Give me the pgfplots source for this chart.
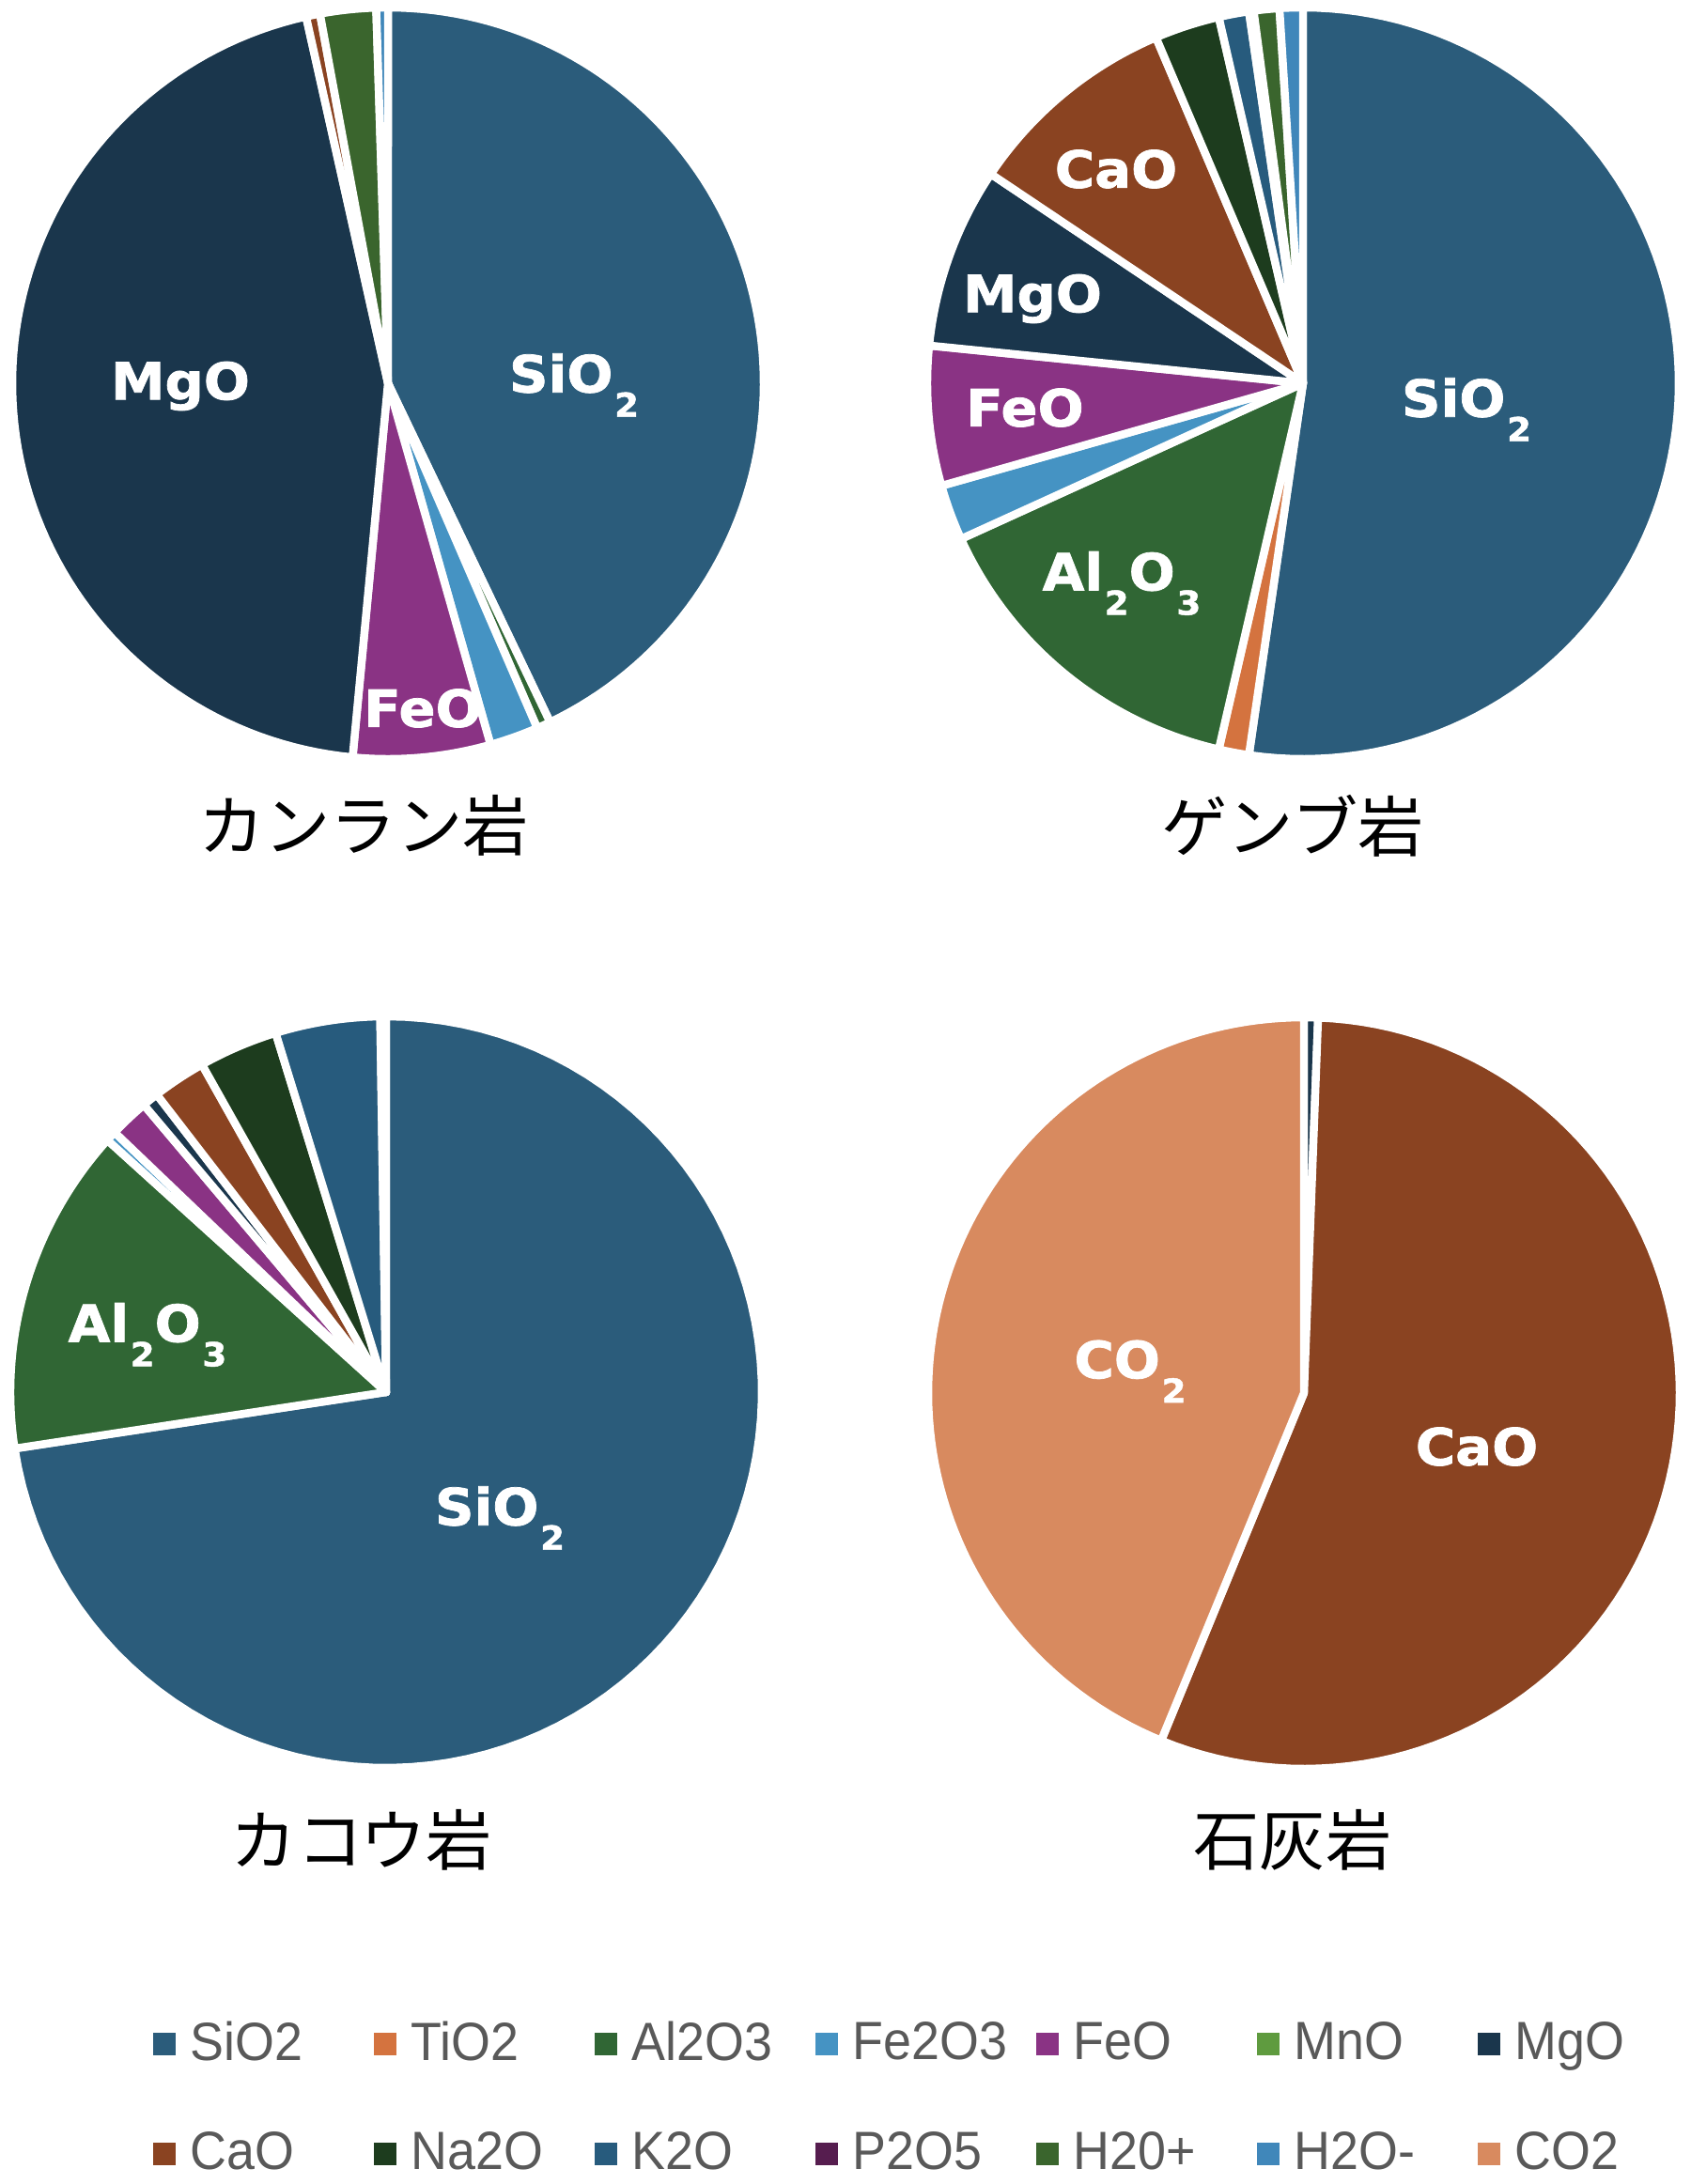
\documentclass[border=0pt]{standalone}
\usepackage{fontspec}
\setmainfont{Liberation Sans}
\newfontfamily\legfont{Liberation Sans}[FakeStretch=0.94]
\newfontfamily\lblfont{DejaVu Sans Bold}[FakeBold=1.4, FakeStretch=1.06]
\newfontfamily\jpfont{Noto Sans CJK JP}
\usepackage{pgfplots}
\usepackage{pgfplotstable}
\pgfplotsset{compat=1.18}

% oxide colours, in table order
\definecolor{oxc0}{HTML}{2B5C7B}  % SiO2
\definecolor{oxc1}{HTML}{D4733F}  % TiO2
\definecolor{oxc2}{HTML}{306634}  % Al2O3
\definecolor{oxc3}{HTML}{4593C3}  % Fe2O3
\definecolor{oxc4}{HTML}{8A3384}  % FeO
\definecolor{oxc5}{HTML}{5F9B3F}  % MnO
\definecolor{oxc6}{HTML}{1A364C}  % MgO
\definecolor{oxc7}{HTML}{8A4321}  % CaO
\definecolor{oxc8}{HTML}{1D3C1E}  % Na2O
\definecolor{oxc9}{HTML}{275B7D}  % K2O
\definecolor{oxc10}{HTML}{561D4F} % P2O5
\definecolor{oxc11}{HTML}{3A652D} % H2O+
\definecolor{oxc12}{HTML}{4087BA} % H2O-
\definecolor{oxc13}{HTML}{D88A5F} % CO2
\definecolor{legtext}{HTML}{595959}

% wt% of each oxide
\pgfplotstableread{
oxide val
SiO2  42.9
TiO2  0
Al2O3 0.6
Fe2O3 2.1
FeO   5.9
MnO   0
MgO   45.0
CaO   0.6
Na2O  0
K2O   0
P2O5  0
H2Op  2.4
H2Om  0.5
CO2   0
}\peridotite

\pgfplotstableread{
oxide val
SiO2  52.3
TiO2  1.3
Al2O3 14.6
Fe2O3 2.4
FeO   6.0
MnO   0
MgO   7.8
CaO   9.2
Na2O  2.8
K2O   1.3
P2O5  0.2
H2Op  1.1
H2Om  1.0
CO2   0
}\basalt

\pgfplotstableread{
oxide val
SiO2  72.6
TiO2  0
Al2O3 14.1
Fe2O3 0.45
FeO   1.7
MnO   0
MgO   0.7
CaO   2.3
Na2O  3.4
K2O   4.5
P2O5  0
H2Op  0.25
H2Om  0
CO2   0
}\granite

\pgfplotstableread{
oxide val
SiO2  0
TiO2  0
Al2O3 0
Fe2O3 0
FeO   0
MnO   0
MgO   0.6
CaO   55.6
Na2O  0
K2O   0
P2O5  0
H2Op  0
H2Om  0
CO2   43.8
}\limestone

\def\pieR{4.0}
% slices clockwise from 12 o'clock
\newcommand\drawpie[3]{%
  \pgfplotstablegetrowsof{#1}%
  \pgfmathtruncatemacro\nrows{\pgfplotsretval-1}%
  \def\cum{0}%
  \pgfplotsforeachungrouped \ii in {0,...,\nrows}{%
    \pgfplotstablegetelem{\ii}{val}\of{#1}%
    \let\sliceval\pgfplotsretval
    \pgfmathsetmacro\angA{90-3.6*\cum}%
    \pgfmathsetmacro\cum{\cum+\sliceval}%
    \pgfmathsetmacro\angB{90-3.6*\cum}%
    \pgfmathtruncatemacro\pieshow{\sliceval>0}%
    \ifnum\pieshow=1
      \edef\temp{\noexpand\addplot[forget plot, fill=oxc\ii, draw=white,
        line width=2.4pt, line join=round, domain=\angB:\angA, samples=90,
        variable=\noexpand\t]
        ({#2+\pieR*cos(\noexpand\t)},{#3+\pieR*sin(\noexpand\t)})
        -- (axis cs:#2,#3) -- cycle;}%
      \temp
    \fi
  }%
}

\newcommand\sub[1]{\kern0.03em\raisebox{-0.26cm}{\fontsize{10}{11}\selectfont#1}}

\tikzset{
  lbl/.style={font=\lblfont\fontsize{15.5}{18}\selectfont, text=white, inner sep=0pt},
  ttl/.style={font=\jpfont\fontsize{20}{24}\selectfont, text=black, inner sep=0pt},
}

\begin{document}
\begin{tikzpicture}
\useasboundingbox (0,0) rectangle (18cm,23.25cm);
\begin{axis}[
    at={(0,0)}, anchor=south west,
    scale only axis, width=18cm, height=23.25cm,
    xmin=0, xmax=18, ymin=0, ymax=23.25,
    hide axis, clip=false,
    legend image code/.code={\fill[#1] (0cm,-0.13cm) rectangle (0.24cm,0.11cm);},
    legend columns=7,
    legend cell align=left,
    legend style={
        at={(0.09,0.0394)}, anchor=west,
        draw=none, fill=none, inner sep=0pt,
        font=\legfont\fontsize{16.3}{18}\selectfont, text=legtext,
        nodes={inner sep=0pt},
        row sep=0.71cm,
        /tikz/every odd column/.append style={column sep=0.16cm},
    },
]
\drawpie{\peridotite}{4.13}{19.17}
\drawpie{\basalt}{13.87}{19.17}
\drawpie{\granite}{4.11}{8.43}
\drawpie{\limestone}{13.88}{8.42}

\addlegendimage{fill=oxc0,draw=none}  \addlegendentry{\makebox[1.95cm][l]{SiO2}}
\addlegendimage{fill=oxc1,draw=none}  \addlegendentry{\makebox[1.95cm][l]{TiO2}}
\addlegendimage{fill=oxc2,draw=none}  \addlegendentry{\makebox[1.95cm][l]{Al2O3}}
\addlegendimage{fill=oxc3,draw=none}  \addlegendentry{\makebox[1.95cm][l]{Fe2O3}}
\addlegendimage{fill=oxc4,draw=none}  \addlegendentry{\makebox[1.95cm][l]{FeO}}
\addlegendimage{fill=oxc5,draw=none}  \addlegendentry{\makebox[1.95cm][l]{MnO}}
\addlegendimage{fill=oxc6,draw=none}  \addlegendentry{\makebox[1.95cm][l]{MgO}}
\addlegendimage{fill=oxc7,draw=none}  \addlegendentry{\makebox[1.95cm][l]{CaO}}
\addlegendimage{fill=oxc8,draw=none}  \addlegendentry{\makebox[1.95cm][l]{Na2O}}
\addlegendimage{fill=oxc9,draw=none}  \addlegendentry{\makebox[1.95cm][l]{K2O}}
\addlegendimage{fill=oxc10,draw=none} \addlegendentry{\makebox[1.95cm][l]{P2O5}}
\addlegendimage{fill=oxc11,draw=none} \addlegendentry{\makebox[1.95cm][l]{H20+}}
\addlegendimage{fill=oxc12,draw=none} \addlegendentry{\makebox[1.95cm][l]{H2O-}}
\addlegendimage{fill=oxc13,draw=none} \addlegendentry{\makebox[1.95cm][l]{CO2}}

% slice labels
\node[lbl] at (axis cs:6.11,19.15) {SiO\sub{2}};
\node[lbl] at (axis cs:1.92,19.14) {MgO};
\node[lbl] at (axis cs:4.50,15.71) {FeO};
\node[lbl] at (axis cs:15.61,18.89) {SiO\sub{2}};
\node[lbl] at (axis cs:11.88,21.45) {CaO};
\node[lbl] at (axis cs:10.99,20.07) {MgO};
\node[lbl] at (axis cs:10.91,18.91) {FeO};
\node[lbl] at (axis cs:11.94,17.04) {Al\sub{2}O\sub{3}};
\node[lbl] at (axis cs:1.57,9.04) {Al\sub{2}O\sub{3}};
\node[lbl] at (axis cs:5.32,7.09) {SiO\sub{2}};
\node[lbl] at (axis cs:12.03,8.65) {CO\sub{2}};
\node[lbl] at (axis cs:15.72,7.85) {CaO};

% rock names
\node[ttl] at (axis cs:3.87,14.46) {カンラン岩};
\node[ttl] at (axis cs:13.76,14.46) {ゲンブ岩};
\node[ttl] at (axis cs:3.85,3.66) {カコウ岩};
\node[ttl] at (axis cs:13.76,3.66) {石灰岩};
\end{axis}
\end{tikzpicture}
\end{document}
